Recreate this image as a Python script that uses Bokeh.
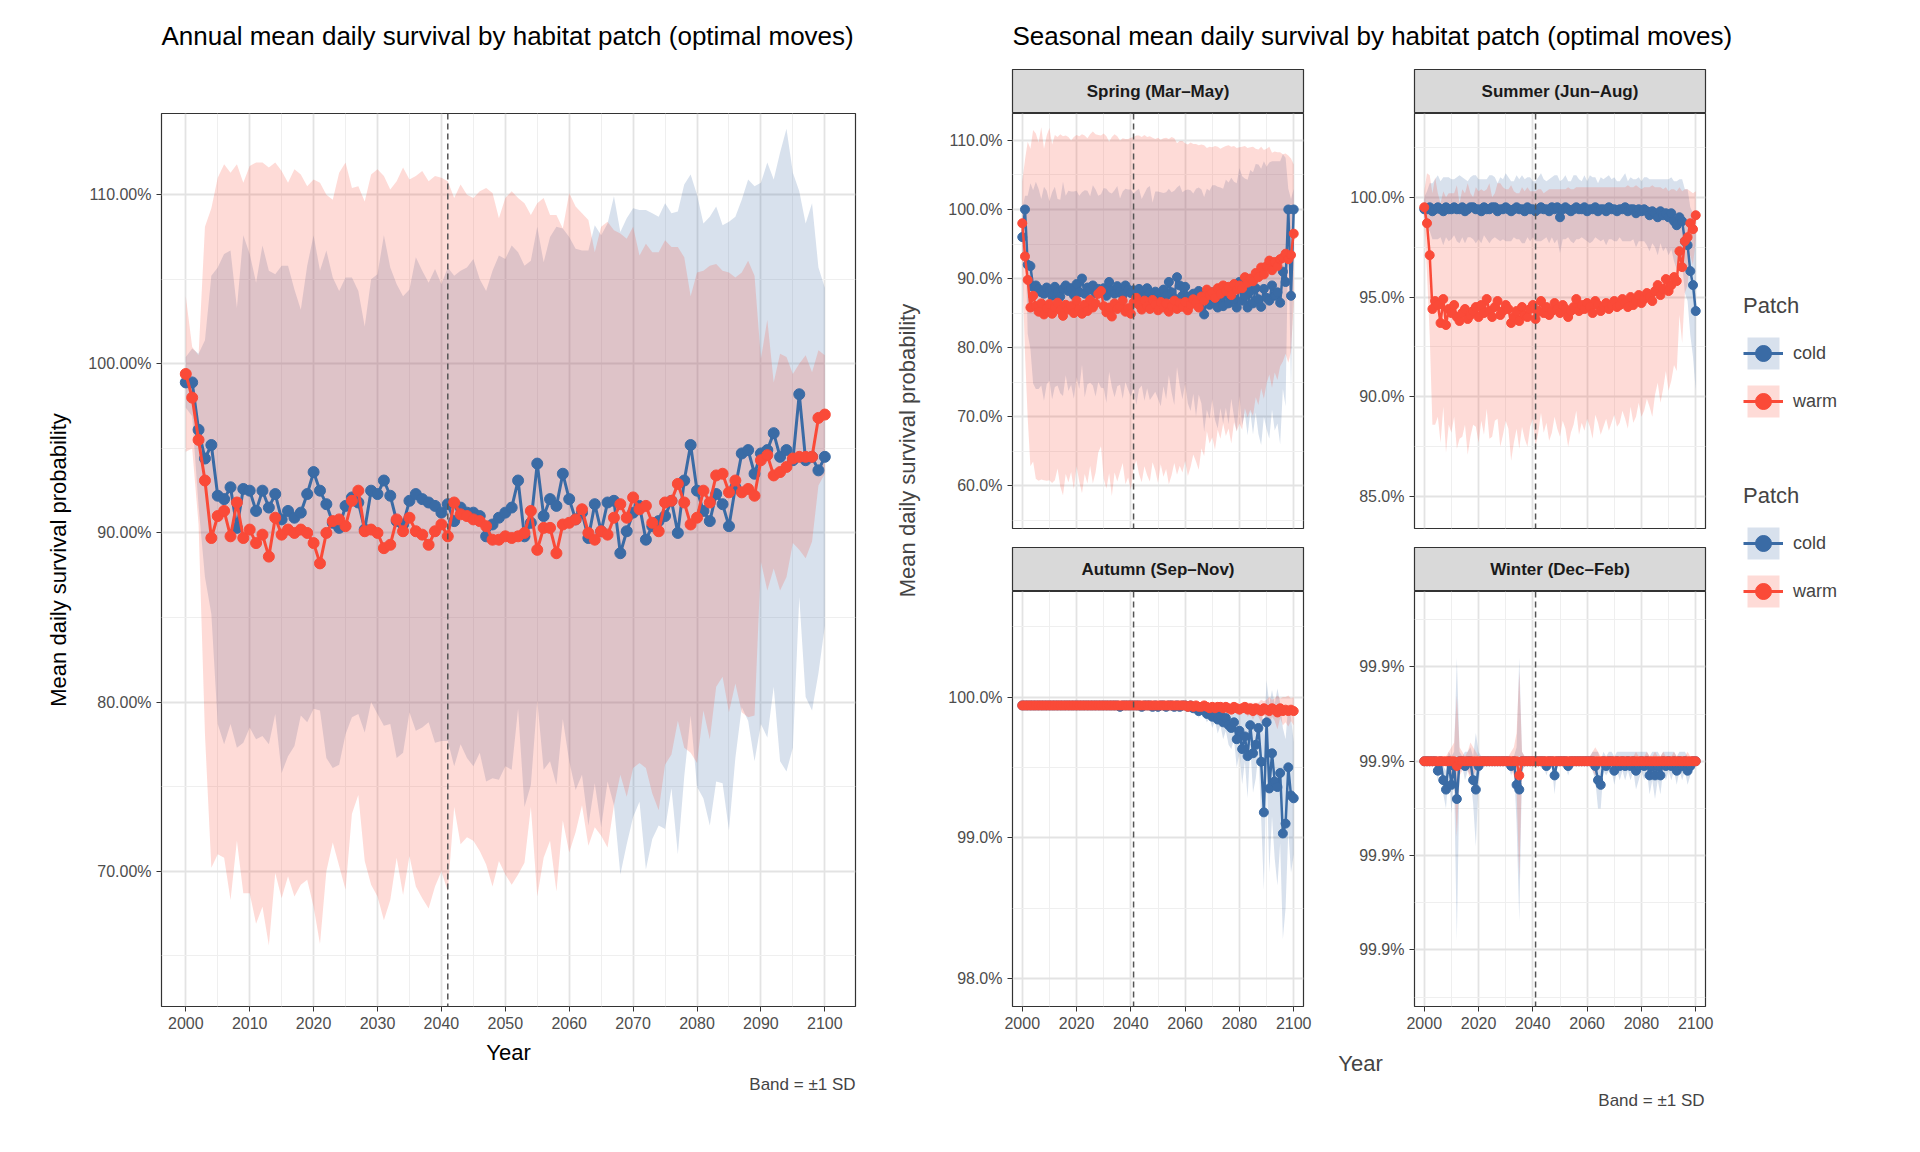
import numpy as np
from bokeh.plotting import figure
from bokeh.layouts import row, column
from bokeh.models import (Range1d, FixedTicker, PrintfTickFormatter, Span, Label, Title,
                          Legend, LegendItem, ColumnDataSource)
from bokeh.embed import file_html
from bokeh.resources import INLINE

years = list(range(2000, 2101))
FONT = "Liberation Sans"
COLD = "#3A6BA5"
WARM = "#FA4A38"

annual_cold = [98.9,98.9,96.1,94.4,95.2,92.2,92.0,92.7,90.3,92.6,
 92.5,91.3,92.5,91.5,92.3,90.8,91.3,90.9,91.2,92.3,
 93.6,92.5,91.7,90.6,90.3,91.6,92.1,91.8,90.2,92.5,
 92.3,93.1,92.2,90.7,90.5,91.9,92.3,92.0,91.8,91.6,
 91.2,91.7,90.7,91.5,91.2,91.2,91.0,89.8,90.5,90.9,
 91.2,91.5,93.1,89.8,90.6,94.1,91.0,92.0,91.6,93.5,
 92.0,90.8,91.2,89.7,91.7,90.1,91.8,91.9,88.8,90.1,
 91.2,91.6,89.6,90.4,90.7,91.0,91.9,90.0,93.1,95.2,
 92.5,91.3,90.7,92.3,91.7,90.4,92.7,94.7,94.9,93.5,
 94.7,94.9,95.9,94.5,94.9,94.3,98.2,94.3,94.5,93.7,
 94.5]
annual_warm = [99.4,98.0,95.5,93.1,89.7,91.0,91.3,89.8,91.8,89.7,
 90.2,89.4,89.9,88.6,90.9,89.9,90.2,90.0,90.2,90.0,
 89.4,88.2,90.0,90.7,90.8,90.4,91.9,92.5,90.1,90.2,
 90.0,89.1,89.3,90.8,90.1,90.9,90.1,89.9,89.3,90.1,
 90.5,89.8,91.8,91.1,91.0,90.8,90.7,90.4,89.6,89.6,
 89.8,89.7,89.8,90.0,91.3,89.0,90.3,90.3,88.8,90.5,
 90.6,90.8,91.4,90.0,89.6,90.1,89.9,90.9,91.7,90.9,
 92.1,91.4,91.6,90.6,90.1,91.8,91.9,92.9,91.8,90.5,
 90.9,92.5,91.8,93.4,93.5,92.4,93.1,92.4,92.6,92.2,
 94.3,94.6,93.4,93.6,93.9,94.4,94.5,94.5,94.5,96.8,
 97.0]
annual_cold_sd = [1.5,2.0,4.5,7.0,10.0,13.5,14.5,14.0,13.0,15.0,
 14.0,13.5,14.5,14.0,13.0,15.0,14.5,13.5,12.0,13.5,
 14.0,13.0,15.0,14.5,14.0,13.5,13.0,12.5,12.0,12.5,
 13.0,14.5,13.5,14.0,13.5,12.5,14.0,13.5,13.0,14.0,
 13.5,14.0,14.5,14.0,14.5,15.0,14.0,14.5,15.0,15.5,
 15.0,15.5,13.5,16.0,15.5,14.0,15.0,15.5,16.5,14.5,
 15.5,16.0,15.5,17.0,16.5,17.5,16.5,18.0,19.0,18.5,
 18.0,17.5,19.5,18.5,18.0,18.5,17.0,19.0,17.5,16.0,
 17.5,17.0,18.0,17.0,16.5,18.0,16.0,15.0,16.0,17.0,
 16.0,17.0,15.0,18.0,19.0,17.0,12.0,14.0,15.0,12.0,
 10.0]
annual_warm_sd = [4.6,3.0,5.0,15.0,19.5,20.0,20.5,21.5,20.0,21.0,
 21.5,22.5,22.0,23.0,21.0,21.5,20.5,21.5,21.0,20.5,
 21.5,22.5,20.0,19.0,20.5,21.5,18.5,18.0,19.5,21.0,
 21.5,22.0,21.0,20.0,21.5,20.0,21.0,21.5,21.5,21.0,
 20.5,21.0,18.0,19.5,19.0,19.0,19.5,20.0,20.5,19.0,
 20.0,20.5,20.0,19.5,17.5,20.5,19.5,18.5,20.0,17.5,
 19.5,18.5,17.5,18.5,17.0,18.0,18.5,17.0,16.0,16.5,
 16.0,15.0,15.5,16.0,16.5,15.5,15.0,14.0,14.5,13.5,
 14.5,13.0,14.0,12.5,12.0,13.0,12.0,13.0,13.5,13.0,
 6.0,8.0,5.5,7.0,6.5,5.0,5.5,6.0,5.0,4.0,
 3.5]

spring_cold = [96.0,100.0,92.0,91.8,88.8,89.0,88.5,88.0,87.8,88.7,
 88.2,87.5,88.8,88.0,87.4,88.5,89.0,88.2,88.6,87.6,
 89.2,88.0,90.0,87.8,88.7,88.4,89.0,87.9,88.5,88.2,
 88.6,87.5,89.5,88.3,87.8,88.9,88.1,87.6,89.0,88.4,
 87.9,88.3,87.2,88.5,88.0,87.3,88.6,87.9,87.0,88.1,
 87.6,87.0,88.4,87.5,89.5,88.0,87.2,90.2,89.0,87.5,
 88.8,87.4,86.8,87.8,86.5,88.2,87.4,84.8,87.0,86.2,
 88.0,86.5,85.8,87.2,86.0,87.8,86.4,88.6,87.0,85.8,
 89.5,86.8,87.5,85.8,88.2,86.4,88.6,87.0,85.9,88.5,
 87.2,86.8,89.0,87.5,88.0,86.5,91.0,89.5,100.0,87.5,
 100.0]
spring_warm = [98.0,93.2,89.8,85.8,87.5,86.0,85.2,86.4,84.8,85.7,
 86.3,84.9,85.8,86.5,85.4,84.6,86.2,85.5,86.0,85.0,
 86.8,85.6,84.9,86.2,85.3,86.9,85.8,86.4,87.8,88.2,
 86.0,85.1,85.8,84.5,86.4,85.6,86.0,86.8,85.2,85.7,
 84.9,86.5,87.2,86.2,85.5,86.8,86.0,85.6,86.9,86.2,
 85.4,86.6,85.8,86.4,85.2,86.0,86.8,85.6,86.4,85.9,
 86.6,85.4,86.2,87.0,86.5,85.8,87.4,86.8,88.4,87.6,
 88.0,87.2,88.6,87.8,89.0,88.2,88.8,87.6,89.2,88.4,
 89.0,88.6,90.2,89.4,90.0,89.6,90.8,90.2,91.6,90.6,
 91.8,92.6,91.2,92.4,91.8,92.8,93.0,93.6,92.8,93.4,
 96.5]
spring_cold_sd = [4.0,2.0,10.0,12.0,14.0,15.0,14.5,13.5,15.5,14.0,
 13.0,15.0,14.5,13.5,14.0,15.5,13.0,14.5,14.0,15.0,
 13.5,14.0,12.5,15.0,14.0,13.5,14.5,15.0,13.5,14.0,
 14.5,15.5,13.0,14.0,15.0,14.5,13.5,15.0,14.0,14.5,
 15.0,14.0,15.5,14.5,13.5,15.0,14.5,15.5,14.0,14.5,
 15.0,15.5,14.0,15.0,13.5,14.5,15.5,13.0,14.5,15.0,
 14.0,15.5,16.0,14.5,16.5,15.0,15.5,17.0,16.0,16.5,
 15.5,17.0,17.5,16.0,17.0,16.5,17.5,16.0,17.0,18.0,
 16.5,18.0,17.0,18.5,17.5,19.0,18.0,19.5,20.0,18.5,
 19.0,20.0,18.0,19.5,19.0,20.5,17.0,18.0,3.0,14.0,
 3.0]
spring_warm_sd = [6.0,14.0,20.0,23.0,24.0,25.0,24.5,25.5,24.0,25.0,
 25.5,24.5,25.0,24.0,25.5,26.0,24.5,25.0,24.0,25.5,
 24.0,25.0,26.0,24.5,25.0,24.0,25.5,24.5,23.0,22.5,
 25.0,25.5,24.0,26.0,24.5,25.0,24.0,23.5,25.0,24.5,
 25.5,24.0,23.5,24.5,25.0,24.0,24.5,25.0,23.5,24.0,
 25.0,23.5,24.5,24.0,25.0,24.5,23.5,24.0,23.5,24.0,
 23.0,24.0,23.5,22.5,23.0,23.5,22.0,22.5,20.5,21.5,
 21.0,22.0,20.5,21.0,20.0,21.0,20.5,21.5,20.0,20.5,
 20.0,20.5,19.0,19.5,19.0,19.5,18.0,18.5,17.5,18.0,
 17.0,16.5,17.0,16.0,16.5,15.5,15.0,14.5,15.0,14.0,
 10.0]

summer_cold = [99.4,99.4,99.5,99.3,99.4,99.5,99.4,99.3,99.5,99.4,
 99.4,99.5,99.4,99.4,99.5,99.3,99.4,99.5,99.5,99.4,
 99.4,99.3,99.5,99.4,99.4,99.5,99.5,99.3,99.4,99.4,
 99.5,99.4,99.3,99.4,99.5,99.4,99.4,99.3,99.5,99.4,
 99.4,99.3,99.4,99.5,99.4,99.4,99.3,99.5,99.4,99.5,
 99.0,99.4,99.5,99.4,99.3,99.4,99.5,99.4,99.4,99.5,
 99.3,99.4,99.4,99.5,99.3,99.4,99.4,99.3,99.5,99.4,
 99.4,99.3,99.4,99.4,99.5,99.3,99.4,99.4,99.2,99.4,
 99.3,99.4,99.3,99.1,99.3,99.2,99.0,99.3,99.1,99.2,
 99.0,99.2,98.8,98.6,99.0,98.8,97.8,97.6,96.3,95.6,
 94.3]
summer_warm = [99.5,98.7,97.1,94.4,94.8,94.6,93.7,94.9,93.6,94.4,
 94.2,94.6,94.0,93.8,94.2,94.4,93.9,94.1,94.3,94.5,
 94.0,94.6,94.2,94.9,94.3,94.0,94.5,94.8,94.1,94.3,
 94.6,94.4,93.7,94.0,94.3,93.8,94.5,94.1,94.0,94.4,
 94.6,93.9,94.3,94.8,94.2,94.5,94.1,94.3,94.7,94.4,
 94.2,94.6,94.4,94.0,94.3,94.5,94.9,94.3,94.6,94.4,
 94.7,94.5,94.2,94.8,94.6,94.3,94.5,94.7,94.4,94.6,
 94.8,94.5,94.6,94.9,94.7,94.5,95.0,94.6,94.8,95.1,
 94.7,94.9,95.2,95.0,94.8,95.3,95.6,95.1,95.4,95.9,
 95.3,95.6,96.0,95.8,97.3,96.5,97.8,98.0,98.7,98.4,
 99.1]
summer_cold_sd = [0.6,0.9,1.2,1.4,1.5,1.6,1.4,1.7,1.5,1.6,
 1.5,1.4,1.6,1.7,1.5,1.6,1.4,1.5,1.6,1.7,
 1.5,1.6,1.4,1.5,1.7,1.6,1.5,1.4,1.6,1.5,
 1.7,1.6,1.5,1.4,1.6,1.5,1.7,1.6,1.5,1.6,
 1.4,1.5,1.6,1.7,1.5,1.4,1.6,1.5,1.7,1.6,
 1.8,1.5,1.6,1.4,1.5,1.7,1.6,1.5,1.4,1.6,
 1.5,1.7,1.6,1.5,1.4,1.6,1.5,1.7,1.6,1.5,
 1.6,1.5,1.4,1.6,1.7,1.5,1.6,1.5,1.7,1.6,
 1.5,1.6,1.7,1.8,1.6,1.7,1.9,1.6,1.8,1.7,
 1.9,1.8,2.0,2.2,1.9,2.1,2.6,2.8,3.2,3.6,
 4.0]
summer_warm_sd = [0.8,2.5,4.0,5.8,6.2,5.6,6.0,5.4,6.4,5.8,
 6.0,5.6,6.6,5.9,6.2,5.8,6.8,6.1,5.7,6.0,
 6.3,5.8,6.1,5.5,6.4,6.0,5.7,5.9,6.6,6.2,
 5.8,6.0,6.9,6.3,5.9,6.4,6.0,6.2,6.5,5.9,
 5.7,6.4,6.1,5.6,6.0,5.8,6.3,6.1,5.7,6.0,
 6.2,5.8,6.0,6.5,6.1,5.9,5.6,6.2,5.9,6.1,
 5.8,6.0,6.3,5.7,5.9,6.2,6.0,5.8,6.1,5.9,
 5.7,6.0,5.9,5.6,5.8,6.1,5.5,5.9,5.8,5.4,
 5.7,5.6,5.3,5.5,5.8,5.2,4.9,5.4,5.0,4.6,
 5.0,4.8,4.4,4.5,3.2,3.8,2.6,2.4,1.6,1.8,
 1.2]

autumn_cold = [99.94,99.94,99.94,99.94,99.94,99.94,99.94,99.94,99.94,99.94,
 99.94,99.94,99.94,99.94,99.94,99.94,99.94,99.94,99.94,99.94,
 99.94,99.94,99.94,99.94,99.94,99.94,99.94,99.94,99.94,99.94,
 99.94,99.94,99.94,99.94,99.94,99.94,99.93,99.94,99.94,99.94,
 99.94,99.94,99.94,99.94,99.93,99.94,99.94,99.94,99.93,99.94,
 99.93,99.94,99.94,99.93,99.94,99.94,99.93,99.94,99.93,99.94,
 99.94,99.93,99.94,99.92,99.93,99.90,99.92,99.91,99.88,99.90,
 99.86,99.89,99.84,99.87,99.82,99.85,99.80,99.78,99.82,99.70,
 99.76,99.63,99.72,99.58,99.80,99.60,99.66,99.78,99.54,99.18,
 99.82,99.35,99.60,99.40,99.36,99.46,99.03,99.10,99.50,99.30,
 99.28]
autumn_warm = [99.94,99.94,99.94,99.94,99.94,99.94,99.94,99.94,99.94,99.94,
 99.94,99.94,99.94,99.94,99.94,99.94,99.94,99.94,99.94,99.94,
 99.94,99.94,99.94,99.94,99.94,99.94,99.94,99.94,99.94,99.94,
 99.94,99.94,99.94,99.94,99.94,99.94,99.94,99.94,99.94,99.94,
 99.94,99.94,99.94,99.94,99.94,99.94,99.94,99.94,99.94,99.94,
 99.94,99.94,99.94,99.94,99.94,99.94,99.94,99.94,99.94,99.94,
 99.94,99.93,99.94,99.93,99.94,99.93,99.93,99.94,99.93,99.92,
 99.93,99.92,99.93,99.93,99.92,99.93,99.92,99.91,99.93,99.92,
 99.91,99.92,99.93,99.91,99.92,99.90,99.92,99.91,99.90,99.92,
 99.91,99.90,99.92,99.91,99.89,99.92,99.90,99.91,99.90,99.91,
 99.90]
autumn_cold_sd = [0.005,0.005,0.005,0.005,0.005,0.005,0.005,0.005,0.005,0.005,
 0.005,0.005,0.005,0.005,0.005,0.005,0.005,0.005,0.005,0.005,
 0.005,0.005,0.005,0.005,0.005,0.005,0.005,0.005,0.005,0.005,
 0.005,0.005,0.005,0.005,0.005,0.005,0.01,0.005,0.005,0.005,
 0.005,0.005,0.005,0.005,0.01,0.005,0.005,0.005,0.01,0.005,
 0.01,0.005,0.005,0.01,0.005,0.005,0.01,0.005,0.01,0.005,
 0.01,0.02,0.01,0.03,0.02,0.05,0.03,0.04,0.06,0.05,
 0.08,0.06,0.10,0.07,0.12,0.09,0.14,0.15,0.12,0.20,
 0.16,0.25,0.18,0.30,0.15,0.28,0.24,0.18,0.40,0.55,
 0.30,0.60,0.45,0.55,0.70,0.50,0.75,0.60,0.45,0.55,
 0.40]
autumn_warm_sd = [0.003,0.003,0.003,0.003,0.003,0.003,0.003,0.003,0.003,0.003,
 0.003,0.003,0.003,0.003,0.003,0.003,0.003,0.003,0.003,0.003,
 0.003,0.003,0.003,0.003,0.003,0.003,0.003,0.003,0.003,0.003,
 0.003,0.003,0.003,0.003,0.003,0.003,0.003,0.003,0.003,0.003,
 0.003,0.003,0.003,0.003,0.003,0.003,0.003,0.003,0.003,0.003,
 0.003,0.003,0.003,0.003,0.003,0.003,0.003,0.003,0.003,0.003,
 0.005,0.01,0.005,0.01,0.005,0.01,0.01,0.005,0.01,0.02,
 0.01,0.02,0.01,0.01,0.02,0.01,0.02,0.03,0.02,0.03,
 0.04,0.03,0.02,0.05,0.04,0.06,0.04,0.05,0.08,0.05,
 0.07,0.10,0.06,0.08,0.12,0.07,0.10,0.09,0.11,0.08,
 0.10]

winter_cold = [99.900,99.900,99.900,99.900,99.900,99.898,99.900,99.896,99.894,99.900,
 99.895,99.899,99.892,99.900,99.900,99.899,99.900,99.900,99.896,99.894,
 99.899,99.900,99.900,99.900,99.900,99.900,99.900,99.900,99.900,99.900,
 99.900,99.900,99.899,99.900,99.895,99.894,99.900,99.900,99.900,99.900,
 99.900,99.900,99.900,99.900,99.900,99.899,99.900,99.900,99.897,99.900,
 99.900,99.900,99.900,99.899,99.900,99.900,99.900,99.900,99.900,99.900,
 99.900,99.900,99.900,99.899,99.896,99.895,99.900,99.899,99.900,99.900,
 99.898,99.900,99.899,99.900,99.899,99.900,99.899,99.900,99.898,99.899,
 99.900,99.899,99.900,99.897,99.899,99.897,99.899,99.897,99.900,99.899,
 99.900,99.899,99.900,99.898,99.900,99.899,99.900,99.898,99.899,99.900,
 99.900]
winter_warm = [99.900,99.900,99.900,99.900,99.900,99.900,99.900,99.900,99.900,99.900,
 99.900,99.900,99.899,99.900,99.900,99.900,99.900,99.900,99.900,99.900,
 99.900,99.900,99.900,99.900,99.900,99.900,99.900,99.900,99.900,99.900,
 99.900,99.900,99.900,99.900,99.900,99.897,99.900,99.900,99.900,99.900,
 99.900,99.900,99.900,99.900,99.900,99.900,99.900,99.900,99.900,99.900,
 99.900,99.900,99.900,99.900,99.900,99.900,99.900,99.900,99.900,99.900,
 99.900,99.900,99.900,99.900,99.900,99.900,99.900,99.900,99.900,99.900,
 99.900,99.900,99.900,99.900,99.900,99.900,99.900,99.900,99.900,99.900,
 99.900,99.900,99.900,99.900,99.900,99.900,99.900,99.900,99.900,99.900,
 99.900,99.900,99.900,99.900,99.900,99.900,99.900,99.900,99.900,99.900,
 99.900]
winter_cold_sd = [0.0005,0.0005,0.0005,0.001,0.001,0.002,0.001,0.003,0.004,0.002,
 0.006,0.003,0.030,0.002,0.001,0.003,0.002,0.003,0.005,0.012,
 0.003,0.001,0.001,0.001,0.001,0.001,0.001,0.001,0.001,0.001,
 0.001,0.001,0.002,0.001,0.008,0.028,0.002,0.001,0.001,0.001,
 0.001,0.001,0.001,0.001,0.001,0.002,0.001,0.001,0.004,0.001,
 0.001,0.001,0.001,0.002,0.001,0.001,0.001,0.001,0.001,0.001,
 0.001,0.001,0.002,0.003,0.006,0.005,0.002,0.002,0.002,0.002,
 0.003,0.002,0.003,0.002,0.003,0.002,0.003,0.002,0.004,0.003,
 0.002,0.003,0.002,0.004,0.003,0.005,0.003,0.004,0.002,0.003,
 0.002,0.003,0.002,0.003,0.002,0.003,0.002,0.003,0.002,0.001,
 0.001]
winter_warm_sd = [0.0005,0.0005,0.0005,0.0005,0.0005,0.0005,0.0005,0.001,0.001,0.002,
 0.003,0.004,0.015,0.003,0.002,0.001,0.002,0.004,0.003,0.002,
 0.001,0.001,0.001,0.001,0.001,0.001,0.001,0.001,0.001,0.001,
 0.001,0.001,0.002,0.003,0.006,0.022,0.002,0.001,0.001,0.001,
 0.001,0.001,0.001,0.001,0.001,0.001,0.001,0.001,0.001,0.001,
 0.001,0.001,0.001,0.001,0.001,0.001,0.001,0.001,0.001,0.001,
 0.001,0.001,0.002,0.003,0.002,0.001,0.001,0.001,0.001,0.001,
 0.001,0.001,0.001,0.001,0.001,0.001,0.001,0.001,0.002,0.001,
 0.001,0.001,0.002,0.001,0.001,0.002,0.001,0.001,0.002,0.001,
 0.001,0.001,0.002,0.001,0.001,0.001,0.001,0.002,0.001,0.001,
 0.001]

TICK_COLOR = "#4D4D4D"


def make_fig(w, h, mbl, mbr, mbt, mbb, xr, yr, yticks, yminor, fmt, xticks, xminor, showx, tick_px):
    p = figure(width=w, height=h, x_range=Range1d(*xr), y_range=Range1d(*yr),
               output_backend="svg", toolbar_location=None,
               min_border_left=mbl, min_border_right=mbr, min_border_top=mbt, min_border_bottom=mbb)
    p.outline_line_color = "#333333"
    p.outline_line_width = 1.2
    p.background_fill_color = "white"
    p.yaxis.ticker = FixedTicker(ticks=yticks, minor_ticks=yminor)
    p.xaxis.ticker = FixedTicker(ticks=xticks, minor_ticks=xminor)
    p.yaxis.formatter = PrintfTickFormatter(format=fmt)
    for ax in (p.xaxis, p.yaxis):
        ax.axis_line_color = None
        ax.major_tick_line_color = "#333333"
        ax.major_tick_in = 0
        ax.major_tick_out = 5
        ax.minor_tick_line_color = None
        ax.major_label_text_font = FONT
        ax.major_label_text_font_size = tick_px
        ax.major_label_text_color = TICK_COLOR
        ax.axis_label_text_font = FONT
        ax.axis_label_text_font_style = "normal"
        ax.axis_label_text_font_size = "22px"
        ax.axis_label_text_color = "black"
    for g in (p.xgrid, p.ygrid):
        g.grid_line_color = "#E3E3E3"
        g.grid_line_width = 1.8
        g.minor_grid_line_color = "#EFEFEF"
        g.minor_grid_line_width = 1.0
    if not showx:
        p.xaxis.visible = False
    return p


def draw(p, mc, sc, mw, sw, size, lw):
    mc_, sc_, mw_, sw_ = map(np.array, (mc, sc, mw, sw))
    src = ColumnDataSource(dict(x=years, mc=mc, mw=mw,
                                cl=mc_ - sc_, ch=mc_ + sc_, wl=mw_ - sw_, wh=mw_ + sw_))
    p.varea(x="x", y1="cl", y2="ch", source=src, fill_color=COLD, fill_alpha=0.2)
    p.varea(x="x", y1="wl", y2="wh", source=src, fill_color=WARM, fill_alpha=0.2)
    p.add_layout(Span(location=2041, dimension="height", line_color="#555555",
                      line_dash="6 4", line_width=1.5))
    p.line("x", "mc", source=src, line_color=COLD, line_width=lw)
    p.scatter("x", "mc", source=src, size=size, fill_color=COLD, line_color=COLD)
    p.line("x", "mw", source=src, line_color=WARM, line_width=lw)
    p.scatter("x", "mw", source=src, size=size, fill_color=WARM, line_color=WARM)


def blank(w, h):
    b = figure(width=w, height=h, output_backend="svg", toolbar_location=None,
               x_range=Range1d(0, 1), y_range=Range1d(0, 1),
               min_border_left=0, min_border_right=0, min_border_top=0, min_border_bottom=0)
    b.axis.visible = False
    b.grid.visible = False
    b.outline_line_color = None
    return b


# ---------- title strip ----------
top = blank(1904, 69)
for xx, txt in [(161, "Annual mean daily survival by habitat patch (optimal moves)"),
                (1012, "Seasonal mean daily survival by habitat patch (optimal moves)")]:
    top.add_layout(Label(x=xx, y=34, x_units="screen", y_units="screen", text=txt,
                         text_font=FONT, text_font_size="26px", text_baseline="middle",
                         text_color="black"))

# ---------- left annual panel ----------
left = make_fig(892, 1048, 161, 37, 44, 111, (1996.2, 2104.8), (62.0, 114.8),
                [70, 80, 90, 100, 110], [65, 75, 85, 95, 105],
                "%.2f%%", list(range(2000, 2101, 10)), list(range(2005, 2100, 10)), True, "16px")
left.xaxis.axis_label = "Year"
left.yaxis.axis_label = "Mean daily survival probability"
left.yaxis.axis_label_standoff = 14
left.xaxis.axis_label_standoff = 8
draw(left, annual_cold, annual_cold_sd, annual_warm, annual_warm_sd, 11, 3)
left.add_layout(Title(text="Band = \u00b11 SD", align="right", text_font=FONT,
                      text_font_size="17px", text_font_style="normal"), "below")

# ---------- seasonal panels ----------
sx = (1996.4, 2103.6)
sxt = list(range(2000, 2101, 20))
sxm = list(range(2010, 2100, 20))


def strip(w, mbl, mbr, txt):
    s = figure(width=w, height=44, output_backend="svg", toolbar_location=None,
               x_range=Range1d(0, 1), y_range=Range1d(0, 1),
               min_border_left=mbl, min_border_right=mbr, min_border_top=0, min_border_bottom=0)
    s.axis.visible = False
    s.grid.visible = False
    s.background_fill_color = "#D9D9D9"
    s.outline_line_color = "#333333"
    s.outline_line_width = 1.2
    s.add_layout(Label(x=0.5, y=0.5, text=txt, text_font=FONT, text_font_size="17px",
                       text_font_style="bold", text_align="center", text_baseline="middle",
                       text_color="#1A1A1A"))
    return s


spring = make_fig(391, 434, 90, 10, 0, 19, sx, (53.8, 113.9), [60, 70, 80, 90, 100, 110],
                  [55, 65, 75, 85, 95, 105], "%.1f%%", sxt, sxm, False, "16px")
draw(spring, spring_cold, spring_cold_sd, spring_warm, spring_warm_sd, 9, 2.5)
summer = make_fig(402, 434, 101, 10, 0, 19, sx, (83.4, 104.2), [85, 90, 95, 100],
                  [87.5, 92.5, 97.5, 102.5], "%.1f%%", sxt, sxm, False, "16px")
draw(summer, summer_cold, summer_cold_sd, summer_warm, summer_warm_sd, 9, 2.5)
autumn = make_fig(391, 455, 90, 10, 0, 40, sx, (97.8, 100.75), [98, 99, 100],
                  [98.5, 99.5, 100.5], "%.1f%%", sxt, sxm, True, "16px")
draw(autumn, autumn_cold, autumn_cold_sd, autumn_warm, autumn_warm_sd, 9, 2.5)
winter = make_fig(402, 455, 101, 10, 0, 40, sx, (99.848, 99.936), [99.86, 99.88, 99.90, 99.92],
                  [99.85, 99.87, 99.89, 99.91, 99.93], "%.1f%%", sxt, sxm, True, "16px")
draw(winter, winter_cold, winter_cold_sd, winter_warm, winter_warm_sd, 9, 2.5)

s1 = strip(391, 90, 10, "Spring (Mar\u2013May)")
s2 = strip(402, 101, 10, "Summer (Jun\u2013Aug)")
s3 = strip(391, 90, 10, "Autumn (Sep\u2013Nov)")
s4 = strip(402, 101, 10, "Winter (Dec\u2013Feb)")

bottom = blank(793, 71)
bottom.add_layout(Label(x=438, y=54, x_units="screen", y_units="screen", text="Year",
                        text_font=FONT, text_font_size="22px", text_align="center",
                        text_baseline="middle"))
bottom.add_layout(Label(x=782, y=17, x_units="screen", y_units="screen", text="Band = \u00b11 SD",
                        text_font=FONT, text_font_size="17px", text_align="right",
                        text_baseline="middle"))

ylab = blank(30, 1048)
ylab.add_layout(Label(x=15, y=556, x_units="screen", y_units="screen",
                      text="Mean daily survival probability", angle=np.pi / 2,
                      text_font=FONT, text_font_size="22px", text_align="center",
                      text_baseline="middle"))

# ---------- legends ----------
leg = blank(190, 1048)
off = ColumnDataSource(dict(x=[5, 6], y=[5, 5], y1=[5, 5], y2=[6, 6]))
rends = {}
for name, col in (("cold", COLD), ("warm", WARM)):
    va = leg.varea(x="x", y1="y1", y2="y2", source=off, fill_color=col, fill_alpha=0.2)
    ln = leg.line("x", "y", source=off, line_color=col, line_width=3)
    sc = leg.scatter("x", "y", source=off, size=11, fill_color=col, line_color=col)
    rends[name] = [va, ln, sc]
for ly in (585, 395):
    lg = Legend(items=[LegendItem(label=k, renderers=v) for k, v in rends.items()],
                title="Patch", location=(28, ly), orientation="vertical")
    lg.title_text_font = FONT
    lg.title_text_font_size = "22px"
    lg.title_text_font_style = "normal"
    lg.title_standoff = 14
    lg.label_text_font = FONT
    lg.label_text_font_size = "18px"
    lg.glyph_width = 40
    lg.glyph_height = 40
    lg.label_standoff = 10
    lg.spacing = 8
    lg.padding = 4
    lg.background_fill_alpha = 0
    lg.border_line_color = None
    leg.add_layout(lg, "center")

right = column(row(s1, s2), row(spring, summer), row(s3, s4), row(autumn, winter), bottom)
layout = column(top, row(left, ylab, right, leg))

open("out.html", "w").write(file_html(layout, INLINE))
